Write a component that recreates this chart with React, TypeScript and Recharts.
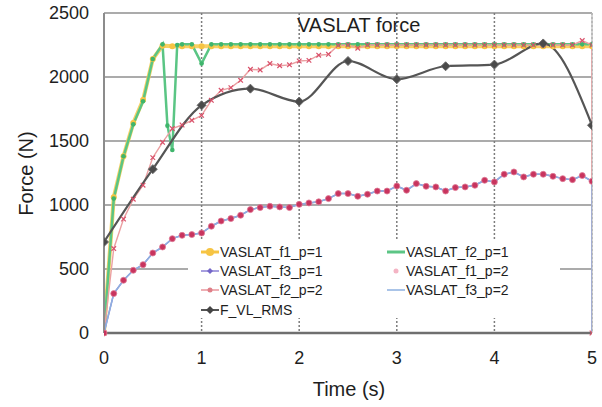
import React from "react";
import {
  LineChart,
  Line,
  XAxis,
  YAxis,
  CartesianGrid,
  ReferenceLine,
  Customized,
} from "recharts";

// sample times (s), one step every 0.1 s
const time = [
  0, 0.1, 0.2, 0.3, 0.4, 0.5, 0.6, 0.7, 0.8, 0.9, 1, 1.1, 1.2, 1.3, 1.4, 1.5,
  1.6, 1.7, 1.8, 1.9, 2, 2.1, 2.2, 2.3, 2.4, 2.5, 2.6, 2.7, 2.8, 2.9, 3, 3.1,
  3.2, 3.3, 3.4, 3.5, 3.6, 3.7, 3.8, 3.9, 4, 4.1, 4.2, 4.3, 4.4, 4.5, 4.6, 4.7,
  4.8, 4.9, 5,
];

const f1p1 = [
  0, 1060, 1380, 1640, 1820, 2140, 2245, 2240, 2240, 2240, 2240, 2240, 2240,
  2240, 2240, 2240, 2240, 2240, 2240, 2240, 2240, 2240, 2240, 2240, 2240, 2240,
  2240, 2240, 2240, 2240, 2240, 2240, 2240, 2240, 2240, 2240, 2240, 2240, 2240,
  2240, 2240, 2240, 2240, 2240, 2240, 2240, 2240, 2240, 2240, 2240, 2240,
];

const f2p1 = [
  0, 1050, 1380, 1630, 1810, 2140, 2255, 1430, 2255, 2255, 2105, 2255, 2255,
  2255, 2255, 2255, 2255, 2255, 2255, 2255, 2255, 2255, 2255, 2255, 2255, 2255,
  2255, 2255, 2255, 2255, 2255, 2255, 2255, 2255, 2255, 2255, 2255, 2255, 2255,
  2255, 2255, 2255, 2255, 2255, 2255, 2255, 2255, 2255, 2255, 2255, 2255,
];
// extra samples around the dip of f2_p=1
const f2p1DipTime = [0.65, 0.75];
const f2p1Dip = [1620, 2250];

const f2p2 = [
  0, 660, 890, 1045, 1155, 1370, 1490, 1597, 1625, 1662, 1700, 1818, 1896,
  1917, 1974, 2060, 2055, 2105, 2088, 2095, 2125, 2130, 2170, 2177, 2248, 2250,
  2225, 2250, 2250, 2250, 2250, 2250, 2250, 2250, 2250, 2250, 2250, 2250, 2250,
  2250, 2250, 2250, 2250, 2250, 2250, 2250, 2250, 2250, 2250, 2285, 2250,
];

const f3 = [
  0, 308, 412, 490, 534, 625, 672, 737, 763, 769, 781, 834, 875, 894, 920, 964,
  980, 990, 985, 980, 1005, 1016, 1025, 1050, 1089, 1089, 1068, 1084, 1109,
  1109, 1148, 1115, 1167, 1146, 1141, 1109, 1136, 1141, 1154, 1193, 1180, 1240,
  1258, 1219, 1240, 1240, 1224, 1206, 1198, 1230, 1185,
];

// F_VL_RMS is sampled every 0.5 s
const rmsTime = [0, 0.5, 1, 1.5, 2, 2.5, 3, 3.5, 4, 4.5, 5];
const rms = [711, 1280, 1779, 1909, 1808, 2125, 1983, 2084, 2097, 2262, 1623];

// last sample drops back to zero
const endTime = 5;
const endForce = 0;

const xTicks = [0, 1, 2, 3, 4, 5];
const yTicks = [0, 500, 1000, 1500, 2000, 2500];

const pts = (ts: number[], vs: number[]) => ts.map((t, i) => ({ t, v: vs[i] }));

const yellowData = pts(time, f1p1);
const greenData = [...pts(time, f2p1), ...pts(f2p1DipTime, f2p1Dip)].sort(
  (a, b) => a.t - b.t
);
const redData = [...pts(time, f2p2), { t: endTime, v: endForce }];
const rmsData = pts(rmsTime, rms);
const purpleData = pts(time, f3);
const blueData = [...pts(time, f3), { t: endTime, v: endForce }];
const pinkData = pts(time, f3);

const FONT = "'Liberation Sans', Arial, sans-serif";

const CrossDot = (props: any) => {
  const { cx, cy, index } = props;
  if (cx == null || cy == null) return <g key={index} />;
  const s = 2.3;
  return (
    <path
      key={index}
      d={`M${cx - s},${cy - s}L${cx + s},${cy + s}M${cx - s},${cy + s}L${cx + s},${cy - s}`}
      stroke='#d9506a'
      strokeWidth={1.2}
      fill='none'
    />
  );
};

const DiamondDot = (props: any) => {
  const { cx, cy, index } = props;
  if (cx == null || cy == null) return <g key={index} />;
  const s = 4.5;
  return (
    <path
      key={index}
      d={`M${cx},${cy - s}L${cx + s},${cy}L${cx},${cy + s}L${cx - s},${cy}Z`}
      fill='#4a4a4a'
      stroke='#6a6a6a'
    />
  );
};

const Texts = () => (
  <g fontFamily={FONT} fill='#1e1e1e'>
    <text x={297} y={31.5} fontSize={20}>
      VASLAT force
    </text>
    <text x={349} y={396} fontSize={20} textAnchor='middle'>
      Time (s)
    </text>
    <text
      x={32.5}
      y={173.5}
      fontSize={20}
      textAnchor='middle'
      transform='rotate(-90 32.5 173.5)'>
      Force (N)
    </text>
  </g>
);

type LegendItem = { name: string; icon: React.ReactNode };

const lineIcon = (color: string, width: number, marker?: React.ReactNode) => (
  <svg width={18} height={10}>
    <line x1={0} y1={5} x2={18} y2={5} stroke={color} strokeWidth={width} />
    {marker}
  </svg>
);

const legendLeft: LegendItem[] = [
  {
    name: "VASLAT_f1_p=1",
    icon: lineIcon("#f6c443", 3, <circle cx={9} cy={5} r={4} fill='#f6c443' />),
  },
  {
    name: "VASLAT_f3_p=1",
    icon: lineIcon(
      "#8a7fd4",
      1.5,
      <path d='M9,2L12,5L9,8L6,5Z' fill='#7467c8' />
    ),
  },
  {
    name: "VASLAT_f2_p=2",
    icon: lineIcon("#e9959b", 1.5, <circle cx={9} cy={5} r={2.5} fill='#df7f88' />),
  },
  {
    name: "F_VL_RMS",
    icon: lineIcon("#555", 2, <path d='M9,1L13,5L9,9L5,5Z' fill='#444' />),
  },
];

const legendRight: LegendItem[] = [
  { name: "VASLAT_f2_p=1", icon: lineIcon("#5cc585", 3) },
  {
    name: "VASLAT_f1_p=2",
    icon: (
      <svg width={18} height={10}>
        <circle cx={9} cy={5} r={2.5} fill='#f4b4c4' />
      </svg>
    ),
  },
  { name: "VASLAT_f3_p=2", icon: lineIcon("#8eb0e0", 1.5) },
];

function LegendBox() {
  const rowH = 19.3;
  const item = (it: LegendItem, i: number, left: number) => (
    <div
      key={it.name}
      style={{
        position: "absolute",
        left,
        top: 242 + i * rowH,
        height: rowH,
        display: "flex",
        alignItems: "center",
        whiteSpace: "nowrap",
      }}>
      <span style={{ display: "inline-flex", width: 19 }}>{it.icon}</span>
      <span style={{ fontSize: 14, color: "#1e1e1e" }}>{it.name}</span>
    </div>
  );
  return (
    <div style={{ fontFamily: FONT }}>
      <div
        style={{
          position: "absolute",
          left: 188,
          top: 241,
          width: 372,
          height: 77,
          background: "#fff",
        }}
      />
      {legendLeft.map((it, i) => item(it, i, 201))}
      {legendRight.map((it, i) => item(it, i, 387))}
    </div>
  );
}

export default function App() {
  return (
    <div
      style={{
        position: "absolute",
        left: 0,
        top: 0,
        width: 602,
        height: 407,
        background: "#fff",
      }}>
      <LineChart
        width={602}
        height={407}
        margin={{ top: 13, right: 10, left: 0, bottom: 0 }}>
        <CartesianGrid vertical={false} stroke='#8f8f8f' strokeWidth={1.6} />
        <CartesianGrid
          horizontal={false}
          stroke='#7c7c7c'
          strokeWidth={1.5}
          strokeDasharray='2 2'
        />
        <ReferenceLine x={5} stroke='#c4c4c4' strokeWidth={1.5} />
        <XAxis
          type='number'
          dataKey='t'
          domain={[0, 5]}
          ticks={xTicks}
          height={74}
          tickLine={false}
          tickMargin={12}
          axisLine={{ stroke: "#6f6f6f", strokeWidth: 2.5 }}
          tick={{ fontSize: 18, fill: "#1e1e1e", fontFamily: FONT }}
          allowDataOverflow
        />
        <YAxis
          type='number'
          dataKey='v'
          domain={[0, 2500]}
          ticks={yTicks}
          width={104}
          tickLine={false}
          tickMargin={9}
          axisLine={{ stroke: "#8c8c8c", strokeWidth: 2 }}
          tick={{ fontSize: 18, fill: "#1e1e1e", fontFamily: FONT }}
        />
        <Line
          data={yellowData}
          dataKey='v'
          type='linear'
          stroke='#f7c94a'
          strokeWidth={4}
          strokeOpacity={0.85}
          dot={{ r: 3, fill: "#f6c443", stroke: "none" }}
          isAnimationActive={false}
        />
        <Line
          data={greenData}
          dataKey='v'
          type='linear'
          stroke='#5ac584'
          strokeWidth={2.5}
          dot={{ r: 2.3, fill: "#3fb56c", stroke: "none" }}
          isAnimationActive={false}
        />
        <Line
          data={redData}
          dataKey='v'
          type='linear'
          stroke='#eba0a2'
          strokeWidth={1.4}
          dot={CrossDot}
          isAnimationActive={false}
        />
        <Line
          data={rmsData}
          dataKey='v'
          type='monotone'
          stroke='#555'
          strokeWidth={2.2}
          dot={DiamondDot}
          isAnimationActive={false}
        />
        <Line
          data={purpleData}
          dataKey='v'
          type='linear'
          stroke='#8a7fd4'
          strokeWidth={1.5}
          dot={false}
          isAnimationActive={false}
        />
        <Line
          data={blueData}
          dataKey='v'
          type='linear'
          stroke='#8eb0e0'
          strokeWidth={1.5}
          dot={false}
          isAnimationActive={false}
        />
        <Line
          data={pinkData}
          dataKey='v'
          type='linear'
          stroke='none'
          dot={{ r: 3, fill: "#c8345e", stroke: "#e07a95", strokeWidth: 0.8 }}
          isAnimationActive={false}
        />
        <Customized component={Texts} />
      </LineChart>
      <LegendBox />
    </div>
  );
}
